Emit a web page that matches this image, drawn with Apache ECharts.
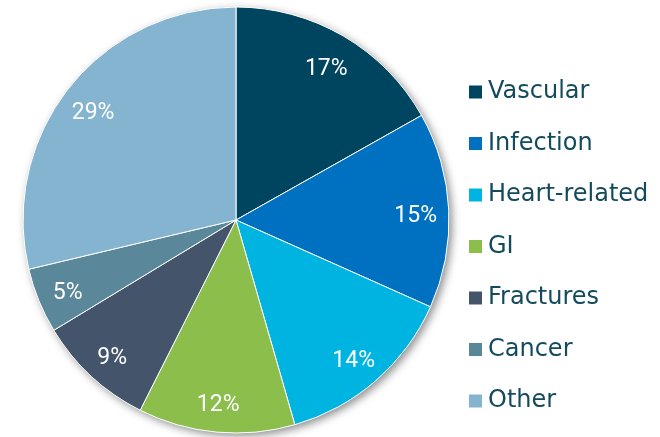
<!DOCTYPE html>
<html>
<head>
<meta charset="utf-8">
<script src="https://cdn.jsdelivr.net/npm/echarts@6/dist/echarts.min.js"></script>
<style>
  html, body { margin: 0; padding: 0; background: #fff; }
  #chart { width: 660px; height: 437px; }
</style>
</head>
<body>
<div id="chart"></div>
<script>
const categories = ["Vascular", "Infection", "Heart-related", "GI", "Fractures", "Cancer", "Other"];
const values     = [17, 15, 14, 12, 9, 5, 29];
const colors     = ["#004560", "#0070c0", "#00b4e2", "#8bbe4b", "#44546a", "#5a8799", "#85b4d0"];

const chart = echarts.init(document.getElementById("chart"));

const data = categories.map((name, i) => ({
  name: name,
  value: values[i],
  itemStyle: { color: colors[i] },
}));

const center = [236, 220];
const radius = 213;

const option = {
  animation: false,
  legend: {
    orient: "vertical",
    left: 462,
    top: 75,
    icon: "rect",
    itemWidth: 15,
    itemHeight: 15,
    itemGap: 27.5,
    data: categories,
    textStyle: {
      fontFamily: "DejaVu Sans",
      fontSize: 24,
      color: "#134b5d",
      lineHeight: 24,
    },
  },
  series: [
    {
      // backdrop circle for the drop shadow
      type: "pie",
      silent: true,
      center: center,
      radius: [0, radius],
      label: { show: false },
      labelLine: { show: false },
      z: 1,
      itemStyle: {
        color: "#ffffff",
        shadowBlur: 8,
        shadowOffsetX: 3,
        shadowOffsetY: 3,
        shadowColor: "rgba(0,0,0,0.45)",
      },
      data: [{ value: 1, name: "_bg" }],
    },
    {
      name: "Causes",
      type: "pie",
      center: center,
      radius: [0, radius],
      startAngle: 90,
      z: 2,
      itemStyle: { borderColor: "#ffffff", borderWidth: 1 },
      label: { show: false },
      labelLine: { show: false },
      data: data,
    },
    {
      // transparent ring that carries the labels at ~0.83 r
      type: "pie",
      silent: true,
      center: center,
      radius: [radius * 0.67, radius],
      startAngle: 90,
      z: 3,
      itemStyle: { color: "rgba(0,0,0,0)" },
      label: {
        show: true,
        position: "inside",
        formatter: "{c}%",
        color: "#ffffff",
        fontFamily: "Roboto",
        fontSize: 23,
        offset: [-1, 5],
      },
      labelLine: { show: false },
      data: categories.map((name, i) => ({ name: name, value: values[i] })),
    },
  ],
};

chart.setOption(option);
</script>
</body>
</html>
